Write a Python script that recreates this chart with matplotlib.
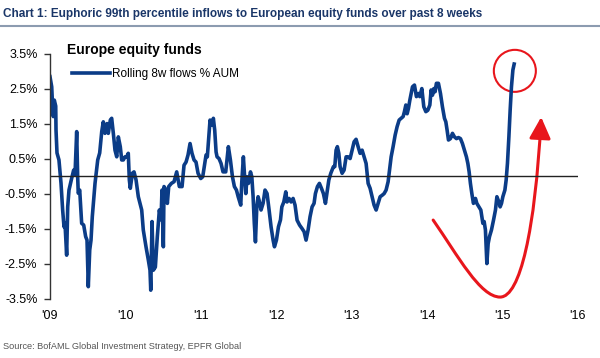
import matplotlib
matplotlib.use("Agg")
import matplotlib.pyplot as plt
import numpy as np
from matplotlib.path import Path
from matplotlib.patches import FancyArrowPatch, Ellipse
from matplotlib.lines import Line2D

# Rolling 8w flows, % of AUM, time in decimal years
annees = [
    2009.000, 2009.023, 2009.031, 2009.044, 2009.057, 2009.076, 2009.080, 2009.093, 2009.119, 2009.146,
    2009.168, 2009.186, 2009.199, 2009.221, 2009.235, 2009.252, 2009.288, 2009.314, 2009.332, 2009.354,
    2009.367, 2009.375, 2009.394, 2009.420, 2009.447, 2009.473, 2009.491, 2009.500, 2009.508, 2009.527,
    2009.544, 2009.561, 2009.597, 2009.633, 2009.659, 2009.686, 2009.707, 2009.729, 2009.756, 2009.773,
    2009.800, 2009.818, 2009.840, 2009.862, 2009.885, 2009.906, 2009.932, 2009.951, 2009.972, 2009.995,
    2010.017, 2010.038, 2010.052, 2010.065, 2010.092, 2010.114, 2010.141, 2010.171, 2010.216, 2010.237,
    2010.273, 2010.304, 2010.326, 2010.336, 2010.353, 2010.370, 2010.397, 2010.423, 2010.450, 2010.472,
    2010.485, 2010.503, 2010.512, 2010.538, 2010.556, 2010.574, 2010.609, 2010.645, 2010.680, 2010.715,
    2010.751, 2010.777, 2010.804, 2010.830, 2010.857, 2010.883, 2010.910, 2010.936, 2010.963, 2010.999,
    2011.025, 2011.052, 2011.069, 2011.086, 2011.105, 2011.122, 2011.149, 2011.166, 2011.184, 2011.202,
    2011.215, 2011.241, 2011.268, 2011.294, 2011.330, 2011.365, 2011.392, 2011.419, 2011.445, 2011.472,
    2011.495, 2011.529, 2011.542, 2011.564, 2011.577, 2011.596, 2011.613, 2011.631, 2011.658, 2011.676,
    2011.693, 2011.709, 2011.724, 2011.742, 2011.759, 2011.772, 2011.798, 2011.825, 2011.851, 2011.878,
    2011.905, 2011.931, 2011.958, 2011.976, 2012.002, 2012.029, 2012.056, 2012.074, 2012.100, 2012.126,
    2012.143, 2012.170, 2012.196, 2012.223, 2012.249, 2012.276, 2012.309, 2012.342, 2012.369, 2012.395,
    2012.422, 2012.448, 2012.475, 2012.501, 2012.519, 2012.546, 2012.572, 2012.599, 2012.625, 2012.652,
    2012.671, 2012.697, 2012.723, 2012.758, 2012.776, 2012.793, 2012.810, 2012.829, 2012.846, 2012.873,
    2012.899, 2012.926, 2012.952, 2012.979, 2013.005, 2013.032, 2013.058, 2013.085, 2013.111, 2013.138,
    2013.164, 2013.191, 2013.218, 2013.244, 2013.271, 2013.297, 2013.324, 2013.350, 2013.377, 2013.403,
    2013.430, 2013.456, 2013.483, 2013.503, 2013.523, 2013.549, 2013.576, 2013.602, 2013.629, 2013.655,
    2013.682, 2013.699, 2013.718, 2013.735, 2013.752, 2013.771, 2013.788, 2013.806, 2013.832, 2013.858,
    2013.885, 2013.903, 2013.930, 2013.956, 2013.983, 2014.009, 2014.036, 2014.053, 2014.071, 2014.089,
    2014.106, 2014.123, 2014.150, 2014.177, 2014.203, 2014.230, 2014.248, 2014.265, 2014.283, 2014.309,
    2014.336, 2014.362, 2014.389, 2014.415, 2014.442, 2014.468, 2014.495, 2014.521, 2014.540, 2014.557,
    2014.574, 2014.593, 2014.614, 2014.641, 2014.659, 2014.686, 2014.712, 2014.739, 2014.756, 2014.773,
    2014.792, 2014.809, 2014.827, 2014.853, 2014.880, 2014.906, 2014.925, 2014.951, 2014.968, 2014.986,
    2015.004, 2015.031, 2015.048, 2015.065, 2015.084, 2015.101, 2015.118, 2015.137, 2015.154,
]
flux = [
    2.84, 2.55, 2.17, 1.70, 2.17, 2.00, 1.31, 0.66, 0.46, -0.20,
    -0.97, -1.45, -1.35, -2.26, -0.88, -0.40, -0.06, 0.17, 0.05, 1.27,
    -0.02, -0.49, -0.40, -1.35, -1.40, -1.73, -1.83, -2.59, -3.16, -2.11,
    -1.83, -1.16, -0.21, 0.46, 0.66, 1.27, 1.55, 1.22, 1.50, 1.22,
    1.60, 1.65, 1.22, 0.74, 0.55, 1.12, 0.84, 0.46, 0.46, 0.55,
    0.55, 0.65, -0.11, -0.35, 0.08, 0.12, -0.11, -0.59, -0.97, -1.54,
    -2.02, -2.40, -2.69, -3.26, -1.30, -2.69, -2.60, -1.73, -0.97, -1.25,
    -0.40, -2.02, -0.30, -0.40, -0.78, -0.30, -0.21, -0.16, 0.12, -0.30,
    -0.30, 0.31, 0.40, 0.60, 0.93, 0.65, 0.46, 0.40, 0.08, -0.07,
    -0.02, 0.36, 0.60, 0.55, 1.12, 1.60, 1.45, 1.65, 1.31, 0.69,
    0.55, 0.50, 0.36, 0.12, 0.12, 0.84, 0.46, -0.02, -0.30, -0.40,
    -0.59, -0.83, -0.20, 0.55, 0.10, -0.50, -0.02, -0.21, 0.12, -0.02,
    -0.59, -1.35, -1.88, -0.88, -0.59, -0.69, -0.97, -0.78, -0.40, -0.50,
    -0.97, -1.45, -1.83, -2.02, -1.83, -1.45, -1.25, -0.88, -0.74, -0.45,
    -0.74, -0.64, -0.74, -0.64, -0.83, -1.26, -1.40, -1.50, -1.59, -1.83,
    -1.54, -1.16, -0.88, -0.78, -0.50, -0.30, -0.21, -0.35, -0.50, -0.78,
    -0.50, -0.11, 0.08, 0.27, 0.27, 0.74, 0.84, 0.65, 0.27, 0.08,
    0.17, 0.55, 0.55, 0.50, 0.74, 0.98, 1.05, 0.84, 0.65, 0.74,
    0.55, 0.36, -0.21, -0.35, -0.59, -0.83, -0.97, -0.78, -0.59, -0.55,
    -0.50, -0.40, -0.16, 0.20, 0.55, 0.84, 1.17, 1.41, 1.60, 1.65,
    1.70, 1.84, 2.03, 1.78, 1.93, 2.17, 2.36, 2.55, 2.60, 2.27,
    2.36, 2.27, 2.50, 1.98, 1.84, 1.88, 2.03, 2.46, 2.31, 2.50,
    2.41, 2.65, 2.65, 2.36, 1.98, 1.65, 1.55, 1.31, 1.03, 1.07,
    1.22, 1.12, 1.07, 1.10, 1.07, 0.93, 0.74, 0.55, 0.36, 0.12,
    -0.21, -0.50, -0.78, -0.64, -0.78, -0.88, -0.97, -1.35, -1.30, -1.54,
    -2.50, -1.93, -1.73, -1.54, -1.26, -0.97, -0.59, -0.74, -0.88, -0.78,
    -0.59, -0.40, -0.11, 0.36, 1.12, 1.89, 2.55, 3.03, 3.20,
]

ticks_x = [2009, 2010, 2011, 2012, 2013, 2014, 2015, 2016]
labels_x = ["'09", "'10", "'11", "'12", "'13", "'14", "'15", "'16"]
ticks_y = [3.5, 2.5, 1.5, 0.5, -0.5, -1.5, -2.5, -3.5]
labels_y = ["3.5%", "2.5%", "1.5%", "0.5%", "-0.5%", "-1.5%", "-2.5%", "-3.5%"]

bleu = '#0b3c87'
rouge = '#e8161c'
police = ['Liberation Sans', 'DejaVu Sans']

fig = plt.figure(figsize=(6.0, 3.58), dpi=100)
ax = fig.add_axes([0.0833, 0.166, 0.88, 0.6844])

ax.plot(annees, flux, color=bleu, linewidth=2.6, solid_joinstyle='round',
        label='Rolling 8w flows % AUM')
ax.axhline(0, color='#222222', linewidth=1.0)

ax.set_xlim(2009, 2016)
ax.set_ylim(-3.5, 3.5)
ax.set_xticks(ticks_x)
ax.set_xticklabels(labels_x, family=police, fontsize=9)
ax.set_yticks(ticks_y)
ax.set_yticklabels(labels_y, family=police, fontsize=9)
ax.tick_params(axis='x', length=0, pad=8)
ax.tick_params(axis='y', length=4, width=1, pad=5, color='#333333')
for cote in ['top', 'right', 'bottom']:
    ax.spines[cote].set_visible(False)
ax.spines['left'].set_color('#333333')
ax.spines['left'].set_linewidth(1.0)

# legende : titre en gras puis la ligne
ax.text(0.032, 1.014, 'Europe equity funds', transform=ax.transAxes,
        family=police, fontsize=10, fontweight='bold', va='center', ha='left')
ax.legend(loc='center left', bbox_to_anchor=(0.0417, 0.915), frameon=False,
          handlelength=3.2, handletextpad=0.2, borderaxespad=0, borderpad=0,
          prop={'family': police, 'size': 8.5})

# annotations rouges : cercle + fleche courbe
cercle = Ellipse((2015.163, 3.006), width=0.557, height=1.2, fill=False,
                 edgecolor=rouge, linewidth=1.5, clip_on=False)
ax.add_patch(cercle)

sommets = [(2014.080, -1.257), (2014.411, -2.286), (2014.703, -3.457), (2014.968, -3.457),
           (2015.233, -3.457), (2015.432, -1.543), (2015.512, 1.686)]
codes = [Path.MOVETO] + [Path.CURVE4] * 6
fleche = FancyArrowPatch(path=Path(sommets, codes),
                         arrowstyle='-|>,head_length=1.3,head_width=0.65',
                         mutation_scale=10, color=rouge, linewidth=2.2,
                         clip_on=False)
ax.add_patch(fleche)

# titre et source
fig.text(0.005, 0.961, 'Chart 1: Euphoric 99th percentile inflows to European equity funds over past 8 weeks',
         family=police, fontsize=8.5, fontweight='bold', color='#1a3668', va='center', ha='left')
fig.add_artist(Line2D([0, 1], [0.926, 0.926], color='#8c9bb0', linewidth=1.5))
fig.text(0.005, 0.031, 'Source: BofAML Global Investment Strategy, EPFR Global',
         family=police, fontsize=6.6, color='#555555', va='center', ha='left')

fig.savefig('out.png', dpi=100)
